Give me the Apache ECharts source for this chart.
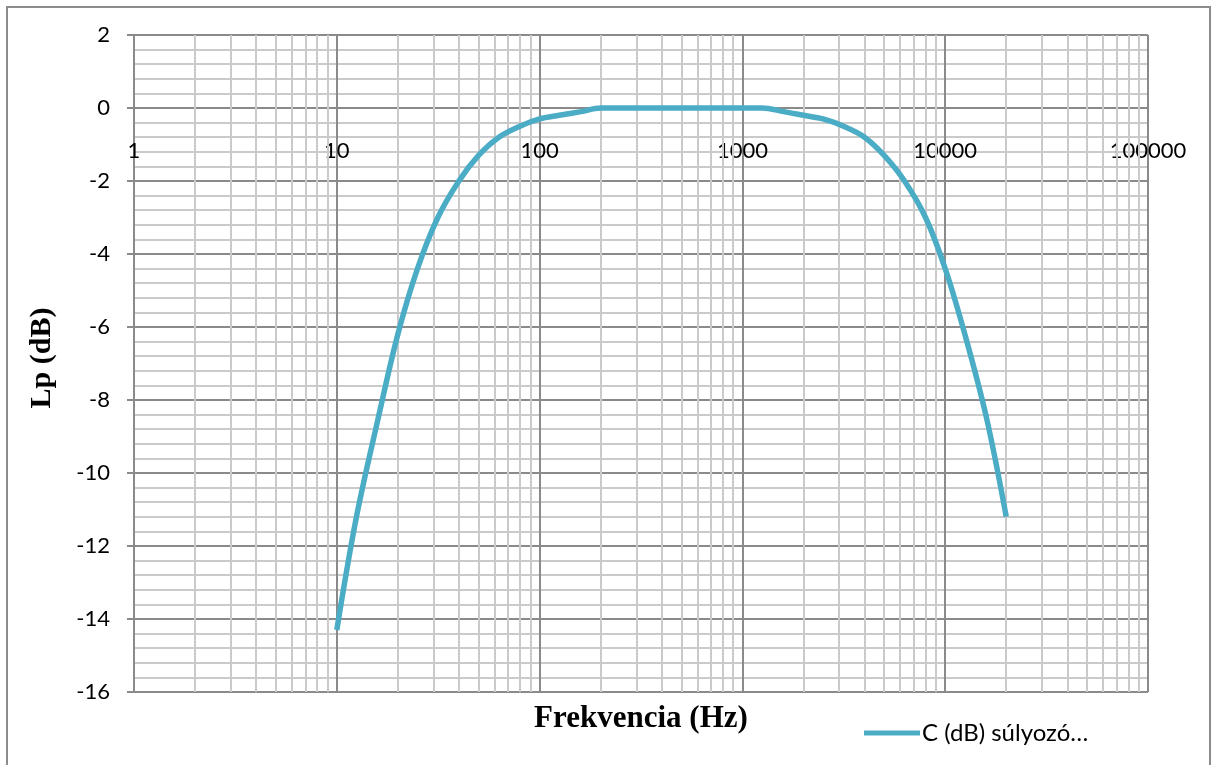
<!DOCTYPE html>
<html>
<head>
<meta charset="utf-8">
<script src="https://cdn.jsdelivr.net/npm/echarts@6/dist/echarts.min.js"></script>
<style>
html,body{margin:0;padding:0;background:#fff;}
#chart{width:1215px;height:765px;}
</style>
</head>
<body>
<div id="chart"></div>
<script>
// Data
const frequencies = [10, 12.5, 16, 20, 25, 31.5, 40, 50, 63, 80, 100, 125, 160, 200, 250, 315, 400, 500, 630, 800, 1000, 1250, 1600, 2000, 2500, 3150, 4000, 5000, 6300, 8000, 10000, 12500, 16000, 20000];
const cWeighting = [-14.3, -11.2, -8.5, -6.2, -4.4, -3.0, -2.0, -1.3, -0.8, -0.5, -0.3, -0.2, -0.1, 0, 0, 0, 0, 0, 0, 0, 0, 0, -0.1, -0.2, -0.3, -0.5, -0.8, -1.3, -2.0, -3.0, -4.4, -6.2, -8.5, -11.2];
const seriesName = 'C (dB) súlyozó…';
const xTitle = 'Frekvencia (Hz)';
const yTitle = 'Lp (dB)';
const xMinorGrid = [2,3,4,5,6,7,8,9, 20,30,40,50,60,70,80,90, 200,300,400,500,600,700,800,900, 2000,3000,4000,5000,6000,7000,8000,9000, 20000,30000,40000,50000,60000,70000,80000,90000];

const majorColor = '#8a8a8a';
const minorColor = '#cacaca';
const lineColor = '#4BACC6';
const tickFont = 'Lato, "Open Sans", sans-serif';

const chart = echarts.init(document.getElementById('chart'), null, {renderer: 'canvas'});
const gridTop = 35, gridBottom = 73;
const plotH = 765 - gridTop - gridBottom;
// x axis crosses at y = 0 : shift the axis from the bottom up by the fraction of the y range below 0
const yMin = -16, yMax = 2;
const xAxisOffset = -plotH * (0 - yMin) / (yMax - yMin);

chart.setOption({
  animation: false,
  backgroundColor: '#fff',
  grid: {left: 134, right: 67, top: gridTop, bottom: gridBottom, containLabel: false},
  xAxis: {
    type: 'log', logBase: 10, min: 1, max: 100000,
    position: 'bottom', offset: xAxisOffset,
    axisLine: {show: true, onZero: false, lineStyle: {color: majorColor, width: 2}},
    axisTick: {show: false},
    axisLabel: {color: '#000', fontSize: 22, fontFamily: tickFont, margin: 32,
      formatter: v => String(Math.round(v))},
    splitLine: {show: true, lineStyle: {color: majorColor, width: 2}},
    minorTick: {show: false},
    minorSplitLine: {show: false}
  },
  yAxis: {
    type: 'value', min: yMin, max: yMax, interval: 2,
    axisLine: {show: true, onZero: false, lineStyle: {color: majorColor, width: 2}},
    axisTick: {show: true, inside: false, length: 7, lineStyle: {color: majorColor, width: 2}},
    axisLabel: {color: '#000', fontSize: 22, fontFamily: tickFont, margin: 24},
    splitLine: {show: true, lineStyle: {color: majorColor, width: 2}},
    minorTick: {show: false, splitNumber: 5},
    minorSplitLine: {show: true, lineStyle: {color: minorColor, width: 2}}
  },
  legend: {
    show: true, left: 859, top: 716, icon: 'rect',
    itemWidth: 56, itemHeight: 5, itemGap: 2,
    textStyle: {color: '#000', fontSize: 24, fontFamily: tickFont, padding: [0, 0, 0, -3]},
    data: [{name: seriesName, icon: 'rect', itemStyle: {color: lineColor}}]
  },
  series: [
    {
      type: 'line', name: 'minor', z: 1, silent: true, data: [],
      markLine: {
        silent: true, symbol: 'none', animation: false,
        label: {show: false},
        lineStyle: {color: minorColor, width: 2, type: 'solid'},
        data: xMinorGrid.map(v => ({xAxis: v}))
      }
    },
    {
      type: 'line', name: seriesName, z: 5,
      data: frequencies.map((f, i) => [f, cWeighting[i]]),
      smooth: 0.35,
      showSymbol: false, symbol: 'none',
      lineStyle: {color: lineColor, width: 5.5},
      itemStyle: {color: lineColor}
    }
  ],
  graphic: [
    {type: 'rect', shape: {x: 7, y: 7, width: 1203, height: 800}, style: {fill: 'none', stroke: '#8c8c8c', lineWidth: 2}, z: 100},
    {type: 'text', style: {text: xTitle, font: 'bold 31px "Liberation Serif", "Times New Roman", serif', fill: '#000', textAlign: 'center', textVerticalAlign: 'middle'}, x: 641, y: 719, z: 100},
    {type: 'text', style: {text: yTitle, font: 'bold 30px "Liberation Serif", "Times New Roman", serif', fill: '#000', textAlign: 'center', textVerticalAlign: 'middle'}, x: 42, y: 358, rotation: Math.PI / 2, z: 100}
  ]
});
</script>
</body>
</html>
